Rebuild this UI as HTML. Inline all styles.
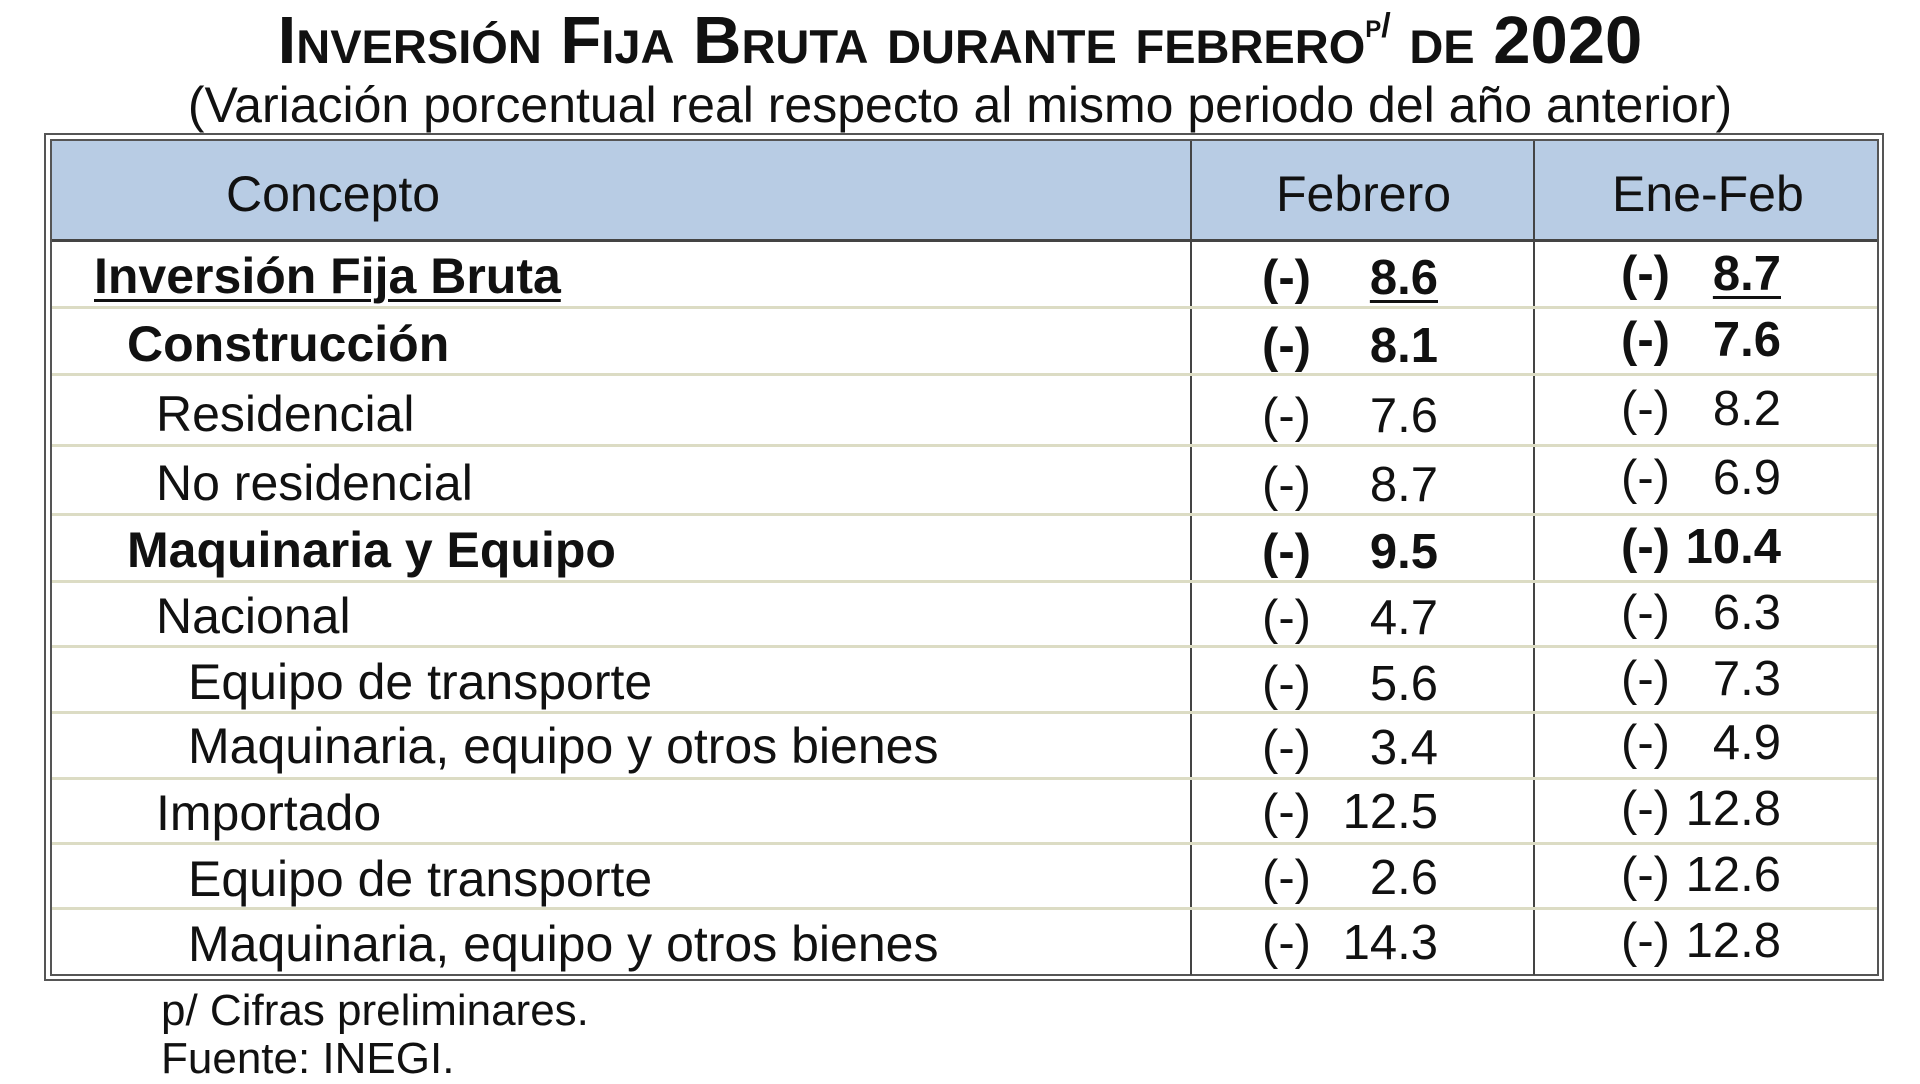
<!DOCTYPE html>
<html><head><meta charset="utf-8"><style>
*{margin:0;padding:0;box-sizing:border-box}
body{width:1920px;height:1080px;background:#fff;position:relative;font-family:"Liberation Sans",Arial,sans-serif;color:#111;overflow:hidden}
.t{position:absolute;white-space:nowrap}
#title{left:0;width:1920px;text-align:center;top:2px;font-size:67px;font-weight:bold;font-variant:small-caps}
#sub{left:0;width:1920px;text-align:center;top:76px;font-size:50px}
#outer{position:absolute;left:44px;top:133px;width:1840px;height:848px;border:2px solid #555;}
#inner{position:absolute;left:50px;top:139px;width:1829px;height:837px;border:2px solid #555;}
#hdr{position:absolute;left:52px;top:141px;width:1825px;height:101px;background:#b8cce4;border-bottom:3px solid #444}
.v{position:absolute;top:141px;height:834px;width:2px;background:#444}
.sep{position:absolute;left:52px;width:1825px;height:3px;background:#dcdcc4}
.h{font-size:50px;top:165px}
.r{font-size:50px;margin-top:-3px}
.n{font-size:49px}
.b{font-weight:bold}
.u{text-decoration:underline;text-decoration-thickness:3px;text-underline-offset:6px}
.num{text-align:right;width:200px}
</style></head><body>
<div class="t" id="title">Inversión Fija Bruta durante febrero<sup style="font-size:34px;vertical-align:26px">p/</sup> de 2020</div>
<div class="t" id="sub">(Variación porcentual real respecto al mismo periodo del año anterior)</div>
<div id="outer"></div><div id="inner"></div>
<div id="hdr"></div>
<div class="v" style="left:1190px"></div>
<div class="v" style="left:1533px"></div>
<div class="t h" style="left:226px">Concepto</div>
<div class="t h" style="left:1276px">Febrero</div>
<div class="t h" style="left:1612px">Ene-Feb</div>
<div class="sep" style="top:306px"></div>
<div class="sep" style="top:373px"></div>
<div class="sep" style="top:444px"></div>
<div class="sep" style="top:513px"></div>
<div class="sep" style="top:580px"></div>
<div class="sep" style="top:645px"></div>
<div class="sep" style="top:711px"></div>
<div class="sep" style="top:777px"></div>
<div class="sep" style="top:842px"></div>
<div class="sep" style="top:907px"></div>

<div class="t r b" style="left:94px;top:250px"><span class="u">Inversión Fija Bruta</span></div>
<div class="t n b" style="left:1262px;top:250px">(-)</div><div class="t n b num" style="left:1238px;top:250px"><span class="u">8.6</span></div>
<div class="t n b" style="left:1621px;top:246px">(-)</div><div class="t n b num" style="left:1581px;top:246px"><span class="u">8.7</span></div>

<div class="t r b" style="left:127px;top:318px">Construcción</div>
<div class="t n b" style="left:1262px;top:318px">(-)</div><div class="t n b num" style="left:1238px;top:318px">8.1</div>
<div class="t n b" style="left:1621px;top:312px">(-)</div><div class="t n b num" style="left:1581px;top:312px">7.6</div>

<div class="t r" style="left:156px;top:388px">Residencial</div>
<div class="t n" style="left:1262px;top:388px">(-)</div><div class="t n num" style="left:1238px;top:388px">7.6</div>
<div class="t n" style="left:1621px;top:381px">(-)</div><div class="t n num" style="left:1581px;top:381px">8.2</div>

<div class="t r" style="left:156px;top:457px">No residencial</div>
<div class="t n" style="left:1262px;top:457px">(-)</div><div class="t n num" style="left:1238px;top:457px">8.7</div>
<div class="t n" style="left:1621px;top:450px">(-)</div><div class="t n num" style="left:1581px;top:450px">6.9</div>

<div class="t r b" style="left:127px;top:524px">Maquinaria y Equipo</div>
<div class="t n b" style="left:1262px;top:524px">(-)</div><div class="t n b num" style="left:1238px;top:524px">9.5</div>
<div class="t n b" style="left:1621px;top:519px">(-)</div><div class="t n b num" style="left:1581px;top:519px">10.4</div>

<div class="t r" style="left:156px;top:590px">Nacional</div>
<div class="t n" style="left:1262px;top:590px">(-)</div><div class="t n num" style="left:1238px;top:590px">4.7</div>
<div class="t n" style="left:1621px;top:585px">(-)</div><div class="t n num" style="left:1581px;top:585px">6.3</div>

<div class="t r" style="left:188px;top:656px">Equipo de transporte</div>
<div class="t n" style="left:1262px;top:656px">(-)</div><div class="t n num" style="left:1238px;top:656px">5.6</div>
<div class="t n" style="left:1621px;top:651px">(-)</div><div class="t n num" style="left:1581px;top:651px">7.3</div>

<div class="t r" style="left:188px;top:720px">Maquinaria, equipo y otros bienes</div>
<div class="t n" style="left:1262px;top:720px">(-)</div><div class="t n num" style="left:1238px;top:720px">3.4</div>
<div class="t n" style="left:1621px;top:715px">(-)</div><div class="t n num" style="left:1581px;top:715px">4.9</div>

<div class="t r" style="left:156px;top:787px">Importado</div>
<div class="t n" style="left:1262px;top:784px">(-)</div><div class="t n num" style="left:1238px;top:784px">12.5</div>
<div class="t n" style="left:1621px;top:781px">(-)</div><div class="t n num" style="left:1581px;top:781px">12.8</div>

<div class="t r" style="left:188px;top:853px">Equipo de transporte</div>
<div class="t n" style="left:1262px;top:850px">(-)</div><div class="t n num" style="left:1238px;top:850px">2.6</div>
<div class="t n" style="left:1621px;top:847px">(-)</div><div class="t n num" style="left:1581px;top:847px">12.6</div>

<div class="t r" style="left:188px;top:918px">Maquinaria, equipo y otros bienes</div>
<div class="t n" style="left:1262px;top:915px">(-)</div><div class="t n num" style="left:1238px;top:915px">14.3</div>
<div class="t n" style="left:1621px;top:913px">(-)</div><div class="t n num" style="left:1581px;top:913px">12.8</div>

<div class="t" style="left:161px;top:986px;font-size:44px">p/ Cifras preliminares.</div>
<div class="t" style="left:161px;top:1034px;font-size:44px">Fuente: INEGI.</div>
</body></html>
